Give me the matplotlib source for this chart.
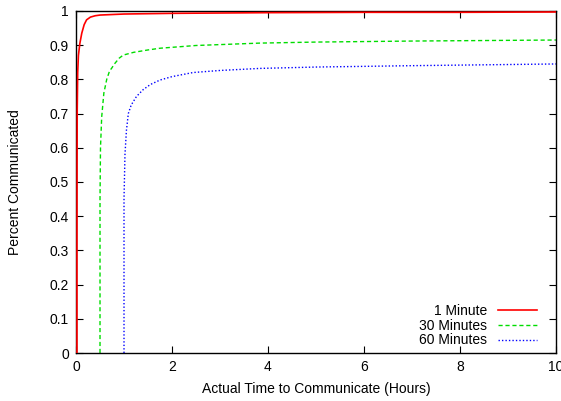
import matplotlib.pyplot as plt

# Daten der drei Kurven
x_1min = [0.02, 0.02, 0.022, 0.025, 0.035, 0.05, 0.08, 0.12, 0.17, 0.22, 0.3, 0.4, 0.5, 1.0, 2.0, 4.0, 6.0, 8.0, 10.0]
y_1min = [0.0, 0.3, 0.55, 0.71, 0.82, 0.87, 0.905, 0.935, 0.96, 0.974, 0.982, 0.986, 0.988, 0.991, 0.993, 0.995, 0.996, 0.996, 0.997]

x_30min = [0.5, 0.5, 0.51, 0.535, 0.58, 0.64, 0.7, 0.74, 0.8, 0.9, 0.985, 1.2, 1.5, 1.75, 2.5, 3.83, 5.0, 7.0, 10.0]
y_30min = [0.0, 0.45, 0.6, 0.69, 0.76, 0.8, 0.825, 0.832, 0.845, 0.862, 0.871, 0.879, 0.886, 0.891, 0.899, 0.906, 0.909, 0.912, 0.915]

x_60min = [1.0, 1.0, 1.02, 1.05, 1.09, 1.15, 1.26, 1.4, 1.55, 1.75, 2.0, 2.44, 3.0, 3.83, 5.0, 7.0, 10.0]
y_60min = [0.0, 0.45, 0.58, 0.65, 0.70, 0.725, 0.75, 0.77, 0.785, 0.798, 0.808, 0.82, 0.826, 0.832, 0.836, 0.84, 0.845]

x_ticks = [0, 2, 4, 6, 8, 10]
y_ticks = [0, 0.1, 0.2, 0.3, 0.4, 0.5, 0.6, 0.7, 0.8, 0.9, 1]
y_tick_labels = ['0', '0.1', '0.2', '0.3', '0.4', '0.5', '0.6', '0.7', '0.8', '0.9', '1']

plt.rcParams['font.family'] = ['Liberation Sans', 'DejaVu Sans']
plt.rcParams['font.size'] = 10

fig = plt.figure(figsize=(5.61, 4.01), dpi=100)
ax = fig.add_axes([0.1355, 0.1197, 0.8555, 0.853])

ax.plot(x_1min, y_1min, color='#ff0000', linewidth=1.2, linestyle='-', label='1 Minute', zorder=3)
ax.plot(x_30min, y_30min, color='#00dd00', linewidth=1.0, linestyle=(0, (3, 2)), label='30 Minutes')
ax.plot(x_60min, y_60min, color='#0000ff', linewidth=1.0, linestyle=(0, (1, 1.5)), label='60 Minutes')

ax.set_xlim(0, 10)
ax.set_ylim(0, 1)
ax.set_xticks(x_ticks)
ax.set_xticklabels([str(t) for t in x_ticks])
ax.set_yticks(y_ticks)
ax.set_yticklabels(y_tick_labels)
ax.tick_params(direction='in', top=True, right=True, length=5, width=0.8, labelsize=10, pad=5)
for s in ax.spines.values():
    s.set_linewidth(1.0)

ax.set_xlabel('Actual Time to Communicate (Hours)', fontsize=10, labelpad=6)
ax.set_ylabel('Percent Communicated', fontsize=10, labelpad=20)

ax.legend(loc='lower right', frameon=False, markerfirst=False, handlelength=2.8,
          handletextpad=0.8, labelspacing=0.05, borderaxespad=0.0, fontsize=10,
          bbox_to_anchor=(0.972, 0.0))

fig.savefig('out.png', dpi=100)
